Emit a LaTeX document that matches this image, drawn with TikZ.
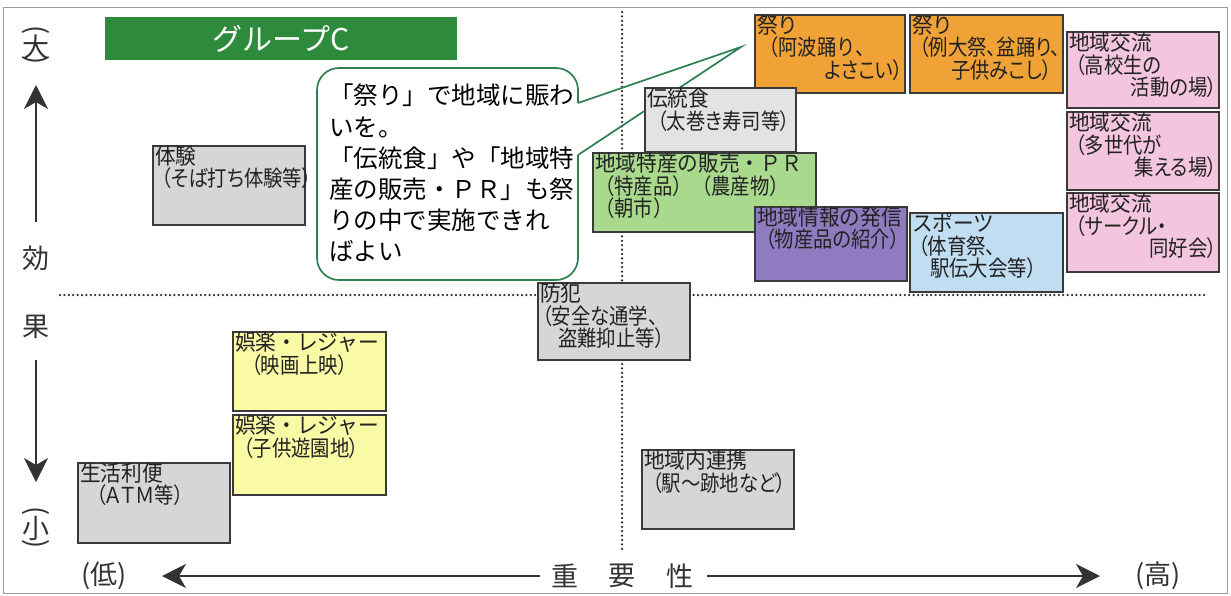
\documentclass[tikz,border=0pt]{standalone}
\usepackage{fontspec}
\usetikzlibrary{arrows.meta}
\newfontfamily\jpf{Noto Sans CJK JP}
\newfontfamily\jpbox[RawFeature=+palt,FakeStretch=0.88]{Noto Sans CJK JP}
\newfontfamily\jpboxn[FakeStretch=0.88]{Noto Sans CJK JP}
\newfontfamily\jpwide[FakeStretch=0.94]{Noto Sans CJK JP}
\newcommand\hd[1]{{\jpwide #1}}
\newcommand\nr[1]{{\jpboxn #1}}
\definecolor{boxline}{HTML}{3A3A3A}
\definecolor{txt}{HTML}{222222}
\definecolor{axis}{HTML}{333333}
\definecolor{dots}{HTML}{2A2A2A}
\definecolor{titlegreen}{HTML}{2E8B3C}
\definecolor{bubblegreen}{HTML}{2E8050}
\definecolor{orangef}{HTML}{F0A236}
\definecolor{pinkf}{HTML}{F3C5DF}
\definecolor{grayf}{HTML}{D6D6D6}
\definecolor{grayl}{HTML}{E3E3E3}
\definecolor{greenf}{HTML}{A8D98C}
\definecolor{purplef}{HTML}{8F7BC0}
\definecolor{bluef}{HTML}{C0DDF2}
\definecolor{yellowf}{HTML}{FAFAA6}
\definecolor{framec}{HTML}{9A9A9A}
\tikzset{
  cbox/.style={draw=boxline, line width=1.4pt, inner sep=0pt, outer sep=0pt},
  ctext/.style={inner sep=0pt, align=left, font=\jpbox\fontsize{22}{22.3}\selectfont, text=txt},
  axislabel/.style={font=\jpf\fontsize{27}{27}\selectfont, text=axis, inner sep=0pt},
  axisarrow/.style={line width=1.6pt, draw=axis, -{Stealth[length=24pt,width=24pt,inset=7pt]}},
  dotline/.style={line width=2.5pt, draw=dots, dash pattern=on 0pt off 4.4pt, line cap=round},
  bubble/.style={draw=bubblegreen, line width=1.7pt, fill=white, rounded corners=22pt, inner sep=0pt, outer sep=0pt},
  bubline/.style={draw=bubblegreen, line width=1.7pt},
  framebox/.style={draw=framec, line width=1pt},
  titlebox/.style={fill=titlegreen, inner sep=0pt, text=white, font=\jpf\fontsize{30}{30}\selectfont},
}
\newcommand\mybox[7]{%
  \pgfmathsetmacro\myw{#4-#2}%
  \pgfmathsetmacro\myh{#5-#3}%
  \pgfmathsetmacro\mytw{#4-#2-4}%
  \node[cbox, fill=#6, minimum width=\myw pt, minimum height=\myh pt, anchor=north west] (#1) at (#2,#3) {};%
  \node[ctext, text width=\mytw pt, anchor=north west] (#1-t) at ([xshift=2pt,yshift=0pt]#1.north west) {#7};%
}
\begin{document}
\begin{tikzpicture}[x=1pt,y=-1pt]
\useasboundingbox (0,0) rectangle (1231,595);
\draw[framebox] (3,7) rectangle (1227,593);
% dotted quadrant lines
\coordinate (hL) at (60,295);
\coordinate (hR) at (1205,295);
\coordinate (vT) at (622,12);
\coordinate (vB) at (622,550);
\draw[dotline] (hL) -- (hR);
\draw[dotline] (vT) -- (vB);
% title
\node[titlebox, minimum width=352pt, minimum height=43pt, anchor=north west] (title) at (105,17) {グループC};
% callout bubble
\node[bubble, minimum width=261pt, minimum height=212pt, anchor=north west] (bub) at (317,68) {};
\coordinate (tip) at (741,47);
\coordinate (pa) at ([yshift=-35pt]bub.north east);
\coordinate (pb) at ([yshift=-87pt]bub.north east);
\draw[white, line width=2.6pt] (pa) -- (pb);
\draw[bubline] (pa) -- (tip) -- (pb);
\node[anchor=north west, inner sep=0pt, align=left, text=black, font=\jpf\fontsize{24.5}{31.2}\selectfont] (btext) at (329,84)
  {「祭り」で地域に賑わ\\いを。\\「伝統食」や「地域特\\産の販売・ＰＲ」も祭\\りの中で実施できれ\\ばよい};
% boxes
\mybox{matsuri1}{755}{15}{905}{93}{orangef}{\hd{祭り}\\\hspace*{2pt}\nr{（阿波踊り、}\\\hspace*{\fill}よさこい）}
\mybox{matsuri2}{910}{15}{1063}{93}{orangef}{\hd{祭り}\\\hspace*{7pt}（例大祭、盆踊り、\\\hspace*{39pt}子供みこし）}
\mybox{koryu1}{1067}{32}{1219}{108}{pinkf}{\hd{地域交流}\\\hspace*{6pt}（高校生の\\\hspace*{\fill}活動の場）}
\mybox{koryu2}{1067}{112}{1219}{190}{pinkf}{\hd{地域交流}\\\hspace*{6pt}（多世代が\\\hspace*{\fill}集える場）}
\mybox{koryu3}{1067}{193}{1219}{272}{pinkf}{\hd{地域交流}\\\hspace*{6pt}（サークル・\\\hspace*{\fill}同好会）}
\mybox{dento}{645}{88}{796}{152}{grayl}{\hd{伝統食}\\\hspace*{10pt}（太巻き寿司等）}
\mybox{tokusan}{593}{153}{816}{232}{greenf}{\hd{地域特産の販売・ＰＲ}\\\nr{（特産品）（農産物）}\\\nr{（朝市）}}
\mybox{joho}{755}{207}{907}{281}{purplef}{\hd{地域情報の発信}\\\hspace*{8pt}（物産品の紹介）}
\mybox{sports}{910}{213}{1063}{292}{bluef}{\hd{スポーツ}\\\hspace*{6pt}（体育祭、\\\hspace*{18pt}駅伝大会等）}
\mybox{bohan}{538}{283}{690}{360}{grayf}{\hd{防犯}\\\hspace*{2pt}（安全な通学、\\\hspace*{18pt}盗難抑止等）}
\mybox{taiken}{153}{146}{305}{225}{grayf}{\hd{体験}\\\hspace*{6pt}（そば打ち体験等）}
\mybox{goraku1}{233}{332}{386}{411}{yellowf}{\hd{娯楽・レジャー}\\\hspace*{16pt}（映画上映）}
\mybox{goraku2}{233}{415}{386}{495}{yellowf}{\hd{娯楽・レジャー}\\\hspace*{8pt}（子供遊園地）}
\mybox{seikatsu}{78}{463}{230}{543}{grayf}{\hd{生活利便}\\\hspace*{16pt}（ＡＴＭ等）}
\mybox{renkei}{642}{450}{794}{529}{grayf}{\hd{地域内連携}\\\hspace*{8pt}（駅～跡地など）}
% vertical axis
\node[axislabel, rotate=-90] (daiA) at (36,30) {(};
\node[axislabel] (dai) at (36,47) {大};
\node[axislabel, rotate=-90] (daiB) at (36,60) {)};
\coordinate (upS) at (36,222);
\coordinate (upE) at (36,85);
\draw[axisarrow] (upS) -- (upE);
\node[axislabel] (ko) at (36,258) {効};
\node[axislabel] (ka) at (36,327) {果};
\coordinate (dnS) at (36,360);
\coordinate (dnE) at (36,482);
\draw[axisarrow] (dnS) -- (dnE);
\node[axislabel, rotate=-90] (shoA) at (36,511) {(};
\node[axislabel] (sho) at (36,528) {小};
\node[axislabel, rotate=-90] (shoB) at (36,544) {)};
% horizontal axis
\node[axislabel] (low) at (104,576) {(低)};
\coordinate (lS) at (540,576);
\coordinate (lE) at (162,576);
\draw[axisarrow] (lS) -- (lE);
\node[axislabel] (j1) at (565,576) {重};
\node[axislabel] (j2) at (622,576) {要};
\node[axislabel] (j3) at (680,576) {性};
\coordinate (rS) at (707,576);
\coordinate (rE) at (1100,576);
\draw[axisarrow] (rS) -- (rE);
\node[axislabel] (high) at (1158,576) {(高)};
\end{tikzpicture}
\end{document}
